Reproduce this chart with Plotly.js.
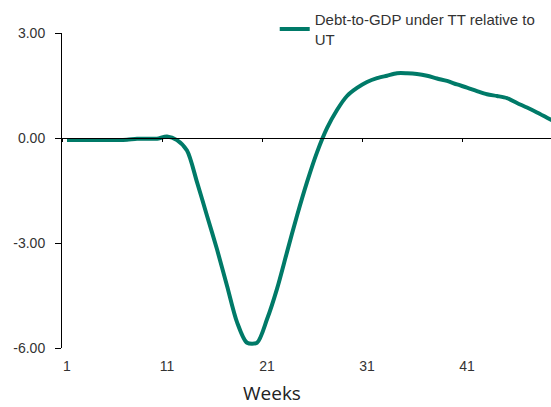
<!DOCTYPE html>
<html>
<head>
<meta charset="utf-8">
<script src="https://cdn.plot.ly/plotly-3.0.1.min.js"></script>
<style>html,body{margin:0;padding:0;background:#fff;}#chart{width:551px;height:407px;}</style>
</head>
<body>
<div id="chart"></div>
<script>
var weeks = [];
for (var i = 1; i <= 50; i++) weeks.push(i);
var debtToGdp = [
  -0.06, -0.06, -0.06, -0.06, -0.06, -0.06, -0.05, -0.02, -0.02, -0.02,
   0.04, -0.06, -0.36, -1.26, -2.22, -3.18, -4.22, -5.26, -5.85, -5.85,
  -5.18, -4.31, -3.26, -2.22, -1.26, -0.41,  0.28,  0.80,  1.20,  1.43,
   1.60,  1.71,  1.78,  1.85,  1.85,  1.83,  1.78,  1.70,  1.63,  1.53,
   1.44,  1.34,  1.25,  1.20,  1.14,  1.00,  0.87,  0.73,  0.58,  0.43
];
var seriesName = 'Debt-to-GDP under TT relative to<br>UT';
var xTickVals = [1, 11, 21, 31, 41];
var xTickText = ['1', '11', '21', '31', '41'];
var xCatBounds = [0.5, 10.5, 20.5, 30.5, 40.5];
var yTickVals = [-6, -3, 0, 3];
var yTickText = ['-6.00', '-3.00', '0.00', '3.00'];
var xTitle = 'Weeks';

var traces = [
  {
    x: weeks, y: debtToGdp, type: 'scatter', mode: 'lines',
    name: seriesName,
    line: {color: '#007A68', width: 4, shape: 'spline', smoothing: 0.8},
    xaxis: 'x', yaxis: 'y'
  },
  {
    x: [], y: [], type: 'scatter', mode: 'lines', showlegend: false,
    xaxis: 'x2', yaxis: 'y', hoverinfo: 'skip'
  }
];

var layout = {
  width: 551, height: 407,
  margin: {l: 62, r: 0, t: 33, b: 59, pad: 0},
  paper_bgcolor: '#fff', plot_bgcolor: '#fff',
  font: {family: 'Liberation Sans, Arial, sans-serif', size: 14, color: '#333'},
  showlegend: true,
  legend: {
    x: 0.435, y: 1.095, xanchor: 'left', yanchor: 'top',
    bgcolor: 'rgba(0,0,0,0)', font: {size: 15, color: '#333'},
    itemwidth: 30, tracegroupgap: 0
  },
  xaxis: {
    range: [0.5, 49.4], showgrid: false, zeroline: false, showline: false,
    tickmode: 'array', tickvals: xTickVals, ticktext: xTickText,
    ticks: '', ticklabelstandoff: 8,
    tickfont: {size: 14, color: '#333'},
    automargin: false, fixedrange: true
  },
  xaxis2: {
    overlaying: 'x', matches: 'x', anchor: 'free', position: 0.6667, side: 'bottom',
    showgrid: false, zeroline: false, showline: true, linecolor: '#000', linewidth: 1,
    tickmode: 'array', tickvals: xCatBounds, ticks: 'outside', ticklen: 3, tickcolor: '#000',
    showticklabels: false, fixedrange: true
  },
  yaxis: {
    range: [-6, 3], showgrid: false, zeroline: false,
    showline: true, linecolor: '#000', linewidth: 1,
    tickmode: 'array', tickvals: yTickVals, ticktext: yTickText,
    ticks: 'outside', ticklen: 6, tickcolor: '#000',
    ticklabelstandoff: 7,
    tickfont: {size: 14, color: '#333'},
    automargin: false, fixedrange: true
  },
  annotations: [{
    text: xTitle, xref: 'paper', yref: 'paper',
    x: (272 - 62) / 489, y: -(393 - 348) / 315, xanchor: 'center', yanchor: 'middle',
    showarrow: false, font: {family: 'Open Sans, sans-serif', size: 19, color: '#222'}
  }]
};

Plotly.newPlot('chart', traces, layout, {displayModeBar: false, staticPlot: true});
</script>
</body>
</html>
